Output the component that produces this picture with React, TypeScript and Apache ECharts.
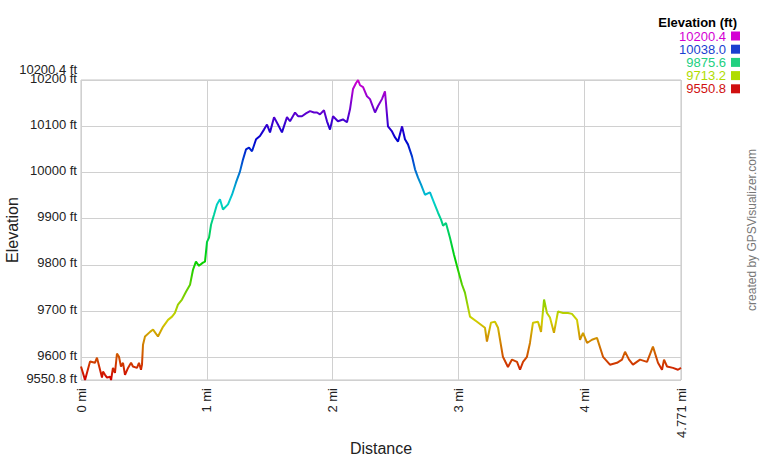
import React, { useEffect, useRef } from "react";
import * as echarts from "echarts";

const distanceMi = [
  0, 0.032, 0.072, 0.111, 0.127, 0.167, 0.175, 0.191, 0.207, 0.231, 0.239, 0.254, 0.27, 0.286, 0.302, 0.318, 0.334,
  0.35, 0.374, 0.398, 0.413, 0.445, 0.461, 0.477, 0.485, 0.493, 0.509, 0.549, 0.573, 0.612, 0.652, 0.692, 0.724,
  0.747, 0.771, 0.803, 0.835, 0.867, 0.891, 0.914, 0.938, 0.97, 0.986, 1.002, 1.018, 1.034, 1.058, 1.081, 1.105,
  1.129, 1.169, 1.201, 1.232, 1.264, 1.288, 1.312, 1.336, 1.36, 1.392, 1.423, 1.455, 1.479, 1.503, 1.535, 1.566,
  1.598, 1.638, 1.662, 1.702, 1.726, 1.757, 1.789, 1.821, 1.853, 1.877, 1.9, 1.932, 1.956, 1.98, 2.004, 2.043,
  2.083, 2.115, 2.139, 2.163, 2.187, 2.203, 2.219, 2.243, 2.274, 2.298, 2.338, 2.362, 2.393, 2.417, 2.441, 2.473,
  2.497, 2.521, 2.553, 2.576, 2.6, 2.632, 2.656, 2.68, 2.704, 2.735, 2.775, 2.807, 2.839, 2.863, 2.879, 2.902,
  2.934, 2.966, 2.998, 3.03, 3.053, 3.093, 3.149, 3.212, 3.228, 3.26, 3.292, 3.316, 3.355, 3.395, 3.427, 3.467,
  3.491, 3.515, 3.546, 3.57, 3.594, 3.634, 3.658, 3.682, 3.705, 3.729, 3.761, 3.793, 3.833, 3.872, 3.904, 3.944,
  3.968, 3.992, 4.024, 4.063, 4.103, 4.151, 4.206, 4.262, 4.302, 4.326, 4.358, 4.389, 4.445, 4.501, 4.548, 4.588,
  4.62, 4.636, 4.66, 4.707, 4.747, 4.771,
];

const elevationFt = [
  9580, 9551, 9591, 9588, 9599, 9556, 9569, 9562, 9556, 9558, 9550.8, 9577, 9566, 9608, 9601, 9580, 9588,
  9562, 9577, 9588, 9580, 9577, 9588, 9573, 9584, 9627, 9645, 9655, 9660, 9645, 9666, 9681, 9688,
  9696, 9714, 9725, 9742, 9757, 9790, 9807, 9798, 9805, 9807, 9850, 9859, 9887, 9909, 9931, 9942,
  9920, 9931, 9952, 9978, 10002, 10028, 10050, 10054, 10046, 10072, 10079, 10093, 10104, 10087, 10120, 10104,
  10087, 10120, 10111, 10130, 10122, 10122, 10128, 10133, 10130, 10130, 10126, 10135, 10111, 10093, 10122, 10111,
  10115, 10109, 10137, 10181, 10194, 10200.4, 10189, 10185, 10165, 10159, 10130, 10144, 10159, 10176, 10100, 10089,
  10076, 10067, 10100, 10072, 10061, 10035, 10007, 9989, 9974, 9952, 9957, 9935, 9913, 9898, 9885, 9891,
  9859, 9822, 9789, 9757, 9740, 9688, 9677, 9664, 9634, 9675, 9677, 9664, 9601, 9579, 9595, 9590,
  9573, 9590, 9601, 9631, 9675, 9677, 9655, 9725, 9696, 9686, 9653, 9699, 9696, 9696, 9694, 9681,
  9638, 9653, 9631, 9638, 9642, 9601, 9584, 9588, 9595, 9612, 9595, 9584, 9595, 9590, 9623, 9588,
  9573, 9595, 9580, 9577, 9573, 9577,
];

const elevMin = 9550.8;
const elevMax = 10200.4;
const distMax = 4.771;

const legendTitle = "Elevation (ft)";
const legendValues = [10200.4, 10038.0, 9875.6, 9713.2, 9550.8];
const legendColors = ["#d400d4", "#1a3fd0", "#22d080", "#b0dc00", "#d01010"];

const rampColors = [
  "#d00000", "#d06800", "#d0d000", "#68d000", "#00d000", "#00d068",
  "#00d0d0", "#0068d0", "#0000d0", "#6800d0", "#d000d0",
];

const FONT = "'Liberation Sans', Arial, sans-serif";

export default function App() {
  const ref = useRef<HTMLDivElement>(null);

  useEffect(() => {
    if (!ref.current) return;
    const chart = echarts.init(ref.current, undefined, { renderer: "svg" });
    const data = distanceMi.map((d, i) => [d, elevationFt[i]]);

    const legendGraphics: any[] = [
      {
        type: "text",
        x: 737,
        y: 22,
        style: {
          text: legendTitle,
          align: "right",
          verticalAlign: "middle",
          textAlign: "right",
          textVerticalAlign: "middle",
          font: `bold 13px ${FONT}`,
          fill: "#000",
        },
      },
    ];
    legendValues.forEach((v, i) => {
      const y = 36 + i * 13.2;
      legendGraphics.push({
        type: "text",
        x: 726,
        y,
        style: {
          text: v.toFixed(1),
          align: "right",
          verticalAlign: "middle",
          textAlign: "right",
          textVerticalAlign: "middle",
          font: `13px ${FONT}`,
          lineHeight: 13,
          fill: legendColors[i],
        },
      });
      legendGraphics.push({
        type: "rect",
        shape: { x: 731, y: y - 4.5, width: 9, height: 9 },
        style: { fill: legendColors[i] },
      });
    });
    legendGraphics.push({
      type: "text",
      x: 752,
      y: 230,
      rotation: Math.PI / 2,
      style: {
        text: "created by GPSVisualizer.com",
        align: "center",
        verticalAlign: "middle",
        textAlign: "center",
        textVerticalAlign: "middle",
        font: `12px ${FONT}`,
        fill: "#777",
      },
    });

    const baseYAxis = {
      type: "value",
      min: elevMin,
      max: elevMax,
      position: "left",
      axisLine: { show: false },
      axisTick: { show: false },
    };

    chart.setOption({
      animation: false,
      backgroundColor: "#fff",
      textStyle: { fontFamily: FONT },
      grid: {
        left: 81,
        right: 79,
        top: 80,
        bottom: 80,
        show: true,
        borderColor: "#c4c4c4",
        borderWidth: 1,
        containLabel: false,
        outerBoundsMode: "none",
      },
      xAxis: {
        type: "value",
        min: 0,
        max: distMax,
        name: "Distance",
        nameLocation: "middle",
        nameGap: 60,
        nameMoveOverlap: false,
        nameTextStyle: { fontSize: 16, color: "#222", fontFamily: FONT },
        axisLine: { show: false },
        axisTick: { show: false },
        splitLine: { show: true, lineStyle: { color: "#d0d0d0", width: 1 } },
        axisLabel: {
          rotate: 90,
          margin: 8,
          fontSize: 13,
          color: "#222",
          fontFamily: FONT,
          showMinLabel: true,
          showMaxLabel: true,
          hideOverlap: false,
          formatter: (v: number) => `${v} mi`,
        },
      },
      yAxis: [
        {
          ...baseYAxis,
          name: "Elevation",
          nameLocation: "middle",
          nameGap: 61,
          nameMoveOverlap: false,
          nameTextStyle: { fontSize: 16, color: "#222", fontFamily: FONT },
          splitLine: { show: true, lineStyle: { color: "#d0d0d0", width: 1 } },
          axisLabel: {
            margin: 4,
            fontSize: 13,
            color: "#222",
            fontFamily: FONT,
            showMinLabel: true,
            showMaxLabel: false,
            hideOverlap: false,
            formatter: (v: number) => `{n|${v} ft}`,
            rich: {
              n: { fontSize: 13, color: "#222", fontFamily: FONT, padding: [0, 0, 4, 0] },
            },
          },
        },
        {
          ...baseYAxis,
          splitLine: { show: false },
          axisLabel: {
            margin: 4,
            fontSize: 13,
            color: "#222",
            fontFamily: FONT,
            showMinLabel: false,
            showMaxLabel: true,
            hideOverlap: false,
            formatter: (v: number) => (v === elevMax ? `{top|${v} ft}` : ""),
            rich: {
              top: { fontSize: 13, color: "#222", fontFamily: FONT, padding: [0, 0, 22, 0] },
            },
          },
        },
      ],
      visualMap: {
        type: "continuous",
        show: false,
        dimension: 1,
        seriesIndex: 0,
        min: elevMin,
        max: elevMax,
        inRange: { color: rampColors },
      },
      series: [
        {
          type: "line",
          data,
          yAxisIndex: 0,
          showSymbol: false,
          symbol: "none",
          lineStyle: { width: 2 },
          smooth: false,
        },
      ],
      graphic: legendGraphics,
    });

    return () => chart.dispose();
  }, []);

  return (
    <div
      ref={ref}
      style={{ position: "fixed", left: 0, top: 0, width: 760, height: 460, background: "#fff" }}
    />
  );
}
